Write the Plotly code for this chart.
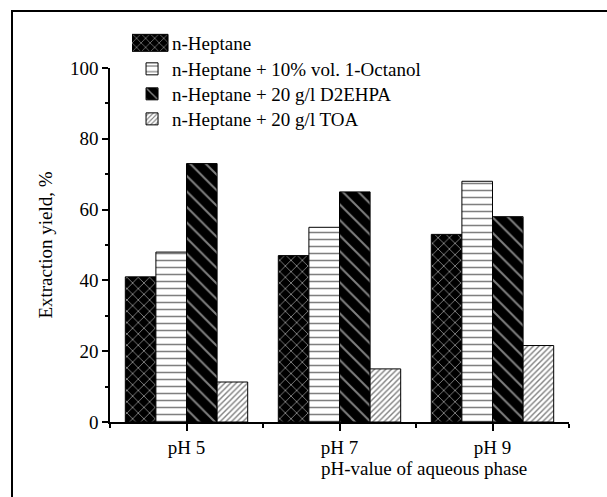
import plotly.graph_objects as go

categories = ["pH 5", "pH 7", "pH 9"]
series_names = [
    "n-Heptane",
    "n-Heptane + 10% vol. 1-Octanol",
    "n-Heptane + 20 g/l D2EHPA",
    "n-Heptane + 20 g/l TOA",
]
heptane = [41, 47, 53]
octanol = [48, 55, 68]
d2ehpa = [73, 65, 58]
toa = [11.3, 15, 21.6]
y_ticks = [0, 20, 40, 60, 80, 100]

values = [heptane, octanol, d2ehpa, toa]
patterns = [
    dict(shape="x", bgcolor="black", fgcolor="white", size=8, solidity=0.22),
    dict(shape="-", bgcolor="white", fgcolor="black", size=7, solidity=0.22),
    dict(shape="\\", bgcolor="black", fgcolor="white", size=11, solidity=0.18),
    dict(shape="/", bgcolor="white", fgcolor="black", size=4, solidity=0.35),
]
legend_ids = ["legend", "legend2", "legend3", "legend4"]

xpos = list(range(len(categories)))
FONT = "Liberation Serif"
FS = 19

fig = go.Figure()
for name, vals, pat, lg in zip(series_names, values, patterns, legend_ids):
    fig.add_trace(go.Bar(
        x=xpos, y=vals, name=name, legend=lg,
        marker=dict(color=pat["bgcolor"], pattern=pat,
                    line=dict(color="black", width=1)),
    ))

# legend row centres (paper coords)
row_y = [1.0706, 0.9972, 0.9266, 0.8559]
legend_layout = {}
for lg, yy in zip(legend_ids, row_y):
    legend_layout[lg] = dict(
        x=0.048, y=yy, xanchor="left", yanchor="middle",
        bgcolor="rgba(0,0,0,0)", borderwidth=0,
        font=dict(size=FS, family=FONT, color="black"),
    )

fig.update_layout(
    width=607, height=497,
    margin=dict(l=110, r=38, t=68, b=75),
    paper_bgcolor="white", plot_bgcolor="white",
    barmode="group", bargap=0.2, bargroupgap=0,
    font=dict(family=FONT, size=FS, color="black"),
    showlegend=True,
    xaxis=dict(
        range=[-0.5, 2.5], tickvals=xpos, ticktext=categories,
        showline=True, linecolor="black", linewidth=1.5,
        ticks="outside", ticklen=7, tickcolor="black", tickwidth=1.5,
        showgrid=False, zeroline=False,
        minor=dict(tickvals=[-0.5, 0.5, 1.5, 2.5], ticks="outside", ticklen=4,
                   tickcolor="black", tickwidth=1.5, showgrid=False),
        tickfont=dict(size=FS, family=FONT, color="black"),
    ),
    yaxis=dict(
        range=[0, 100], tickvals=y_ticks,
        showline=True, linecolor="black", linewidth=1.5,
        ticks="outside", ticklen=6, tickcolor="black", tickwidth=1.5,
        showgrid=False, zeroline=False,
        minor=dict(dtick=10, ticks="outside", ticklen=3, tickcolor="black",
                   tickwidth=1.5, showgrid=False),
        title=dict(text="Extraction yield, %", standoff=12,
                   font=dict(size=FS, family=FONT, color="black")),
        tickfont=dict(size=FS, family=FONT, color="black"),
    ),
    annotations=[dict(
        text="pH-value of aqueous phase", xref="paper", yref="paper",
        x=0.684, y=-0.13, xanchor="center", yanchor="middle",
        showarrow=False, font=dict(size=FS, family=FONT, color="black"),
    )],
    **legend_layout,
)

post = """
document.documentElement.style.overflow = 'hidden';
document.body.style.overflow = 'hidden';
var frame = document.createElement('div');
frame.style.cssText = 'position:absolute;left:11px;top:10px;width:596px;height:487px;' +
  'border-left:2px solid black;border-top:2px solid black;pointer-events:none;z-index:10;';
document.body.appendChild(frame);
var gd = document.getElementById('{plot_id}');
function fixLegend(){
  var items = gd.querySelectorAll('.infolayer g.traces');
  items.forEach(function(t){
    var p = t.querySelector('.legendpoints path');
    var tx = t.querySelector('text.legendtext');
    if (!p || !tx) return;
    var tb = tx.getBBox();
    var tm = tx.getCTM();
    var pm = p.parentNode.getCTM();
    var textLeft = tm.e + tb.x;
    var right = textLeft - 4 - pm.e;
    var left = right - 45;
    p.setAttribute('d', 'M' + right + ',8.5H' + left + 'V-8.5H' + right + 'Z');
    p.removeAttribute('transform');
  });
}
fixLegend();
gd.on('plotly_afterplot', fixLegend);
"""

fig.write_html("out.html", post_script=post, config={"displayModeBar": False})
